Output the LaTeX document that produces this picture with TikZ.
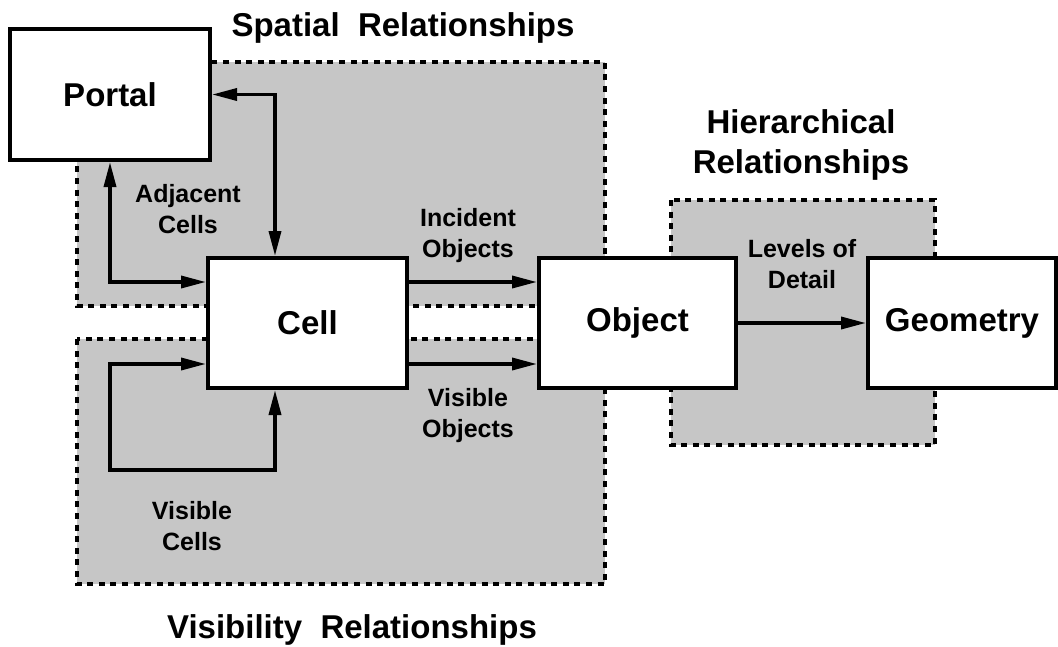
\documentclass[tikz,border=0pt]{standalone}
\usepackage{fontspec}
\setmainfont{Liberation Sans}
\usetikzlibrary{arrows.meta}
\definecolor{regionfill}{RGB}{198,198,198}
\begin{document}
\begin{tikzpicture}[x=1pt,y=-1pt,
  box/.style={draw, line width=4pt, fill=white, inner sep=0pt,
    font=\fontsize{33}{38}\selectfont\bfseries},
  region/.style={draw, line width=3.5pt, fill=regionfill,
    dash pattern=on 6pt off 5.6pt},
  title/.style={inner sep=0pt, anchor=base, align=center,
    font=\fontsize{33}{40}\selectfont\bfseries},
  lbl/.style={inner sep=0pt, anchor=base, align=center,
    font=\fontsize{25}{31}\selectfont\bfseries},
  arr/.style={line width=3.5pt, -{Triangle[length=25pt,width=12pt]}},
  dbl/.style={line width=3.5pt, {Triangle[length=25pt,width=12pt]}-{Triangle[length=25pt,width=12pt]}}
]
\useasboundingbox (0,0) rectangle (1058,646);

% shaded relationship regions
\draw[region] (77,62) rectangle (605,306);
\draw[region] (77,339) rectangle (605,584);
\draw[region] (671,200) rectangle (935,445);

% main nodes
\node[box, minimum width=200pt, minimum height=131pt] (Portal) at (110,94.5) {Portal};
\node[box, minimum width=199pt, minimum height=130pt] (Cell) at (307.5,323) {Cell};
\node[box, minimum width=197pt, minimum height=130pt] (Object) at (637.5,323) {Object};
\node[box, minimum width=188pt, minimum height=130pt] (Geometry) at (962,323) {Geometry};

% helper coordinates
\coordinate (px) at (275,0);
\coordinate (y1) at (0,282);
\coordinate (y2) at (0,364);
\coordinate (vc1) at (110,470);
\coordinate (vc2) at (275,470);

% connectors
\draw[dbl] (Portal.east) -| (Cell.north -| px);
\draw[dbl] (Portal.south) |- (Cell.west |- y1);
\draw[arr] (Cell.east |- y1) -- (Object.west |- y1);
\draw[arr] (Cell.east |- y2) -- (Object.west |- y2);
\draw[dbl] (Cell.west |- y2) -| (vc1) -- (vc2) -- (Cell.south -| vc2);
\draw[arr] (Object.east) -- (Geometry.west);

% titles
\node[title] (tSpatial) at (403,36.5) {Spatial\ \ Relationships};
\node[title] (tHier) at (801,173) {Hierarchical\\Relationships};
\node[title] (tVis) at (352,638) {Visibility\ \ Relationships};

% labels
\node[lbl] (lAdj) at (188,233) {Adjacent\\Cells};
\node[lbl] (lInc) at (468,257) {Incident\\Objects};
\node[lbl] (lVisO) at (468,437) {Visible\\Objects};
\node[lbl] (lLod) at (802,288) {Levels of\\Detail};
\node[lbl] (lVisC) at (192,550) {Visible\\Cells};
\end{tikzpicture}
\end{document}
